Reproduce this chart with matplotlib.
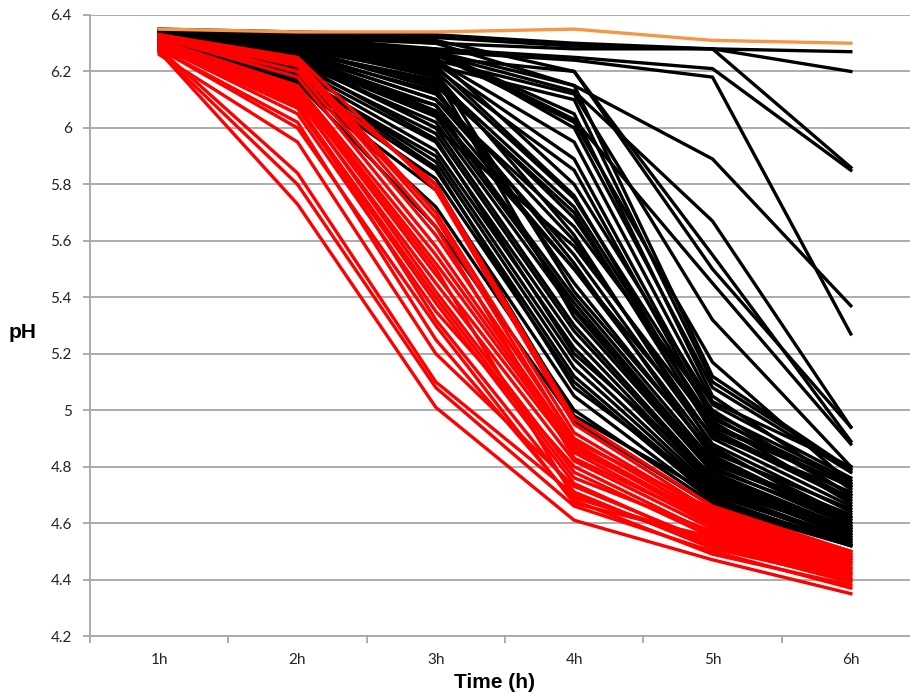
import matplotlib
matplotlib.use("Agg")
import matplotlib.pyplot as plt

hours = ["1h", "2h", "3h", "4h", "5h", "6h"]
y_ticks = [4.2, 4.4, 4.6, 4.8, 5.0, 5.2, 5.4, 5.6, 5.8, 6.0, 6.2, 6.4]

black_series = [
    [6.35, 6.34, 6.33, 6.30, 6.28, 6.27],
    [6.34, 6.33, 6.32, 6.29, 6.28, 6.20],
    [6.34, 6.32, 6.30, 6.28, 6.28, 5.86],
    [6.33, 6.31, 6.28, 6.25, 6.21, 5.85],
    [6.32, 6.30, 6.27, 6.24, 6.18, 5.27],
    [6.33, 6.31, 6.27, 6.15, 5.89, 5.37],
    [6.32, 6.29, 6.26, 6.13, 5.67, 4.94],
    [6.33, 6.30, 6.25, 6.20, 5.55, 4.89],
    [6.32, 6.30, 6.24, 6.12, 5.32, 4.80],
    [6.33, 6.31, 6.26, 6.02, 5.17, 4.74],
    [6.31, 6.28, 6.22, 6.10, 5.10, 4.79],
    [6.34, 6.32, 6.27, 6.05, 5.05, 4.72],
    [6.33, 6.30, 6.23, 5.89, 4.99, 4.75],
    [6.32, 6.29, 6.20, 5.75, 4.98, 4.70],
    [6.31, 6.27, 6.17, 5.72, 4.95, 4.73],
    [6.33, 6.28, 6.15, 5.70, 4.92, 4.68],
    [6.32, 6.27, 6.12, 5.60, 4.90, 4.66],
    [6.31, 6.26, 6.10, 5.55, 4.88, 4.64],
    [6.30, 6.25, 6.08, 5.50, 4.86, 4.62],
    [6.33, 6.28, 6.14, 5.45, 4.84, 4.60],
    [6.32, 6.26, 6.06, 5.40, 4.82, 4.63],
    [6.31, 6.24, 6.04, 5.38, 4.80, 4.59],
    [6.30, 6.23, 6.02, 5.35, 4.79, 4.61],
    [6.34, 6.30, 6.20, 5.42, 4.85, 4.65],
    [6.33, 6.29, 6.18, 5.33, 4.78, 4.58],
    [6.32, 6.25, 6.00, 5.30, 4.76, 4.57],
    [6.31, 6.22, 5.98, 5.28, 4.75, 4.56],
    [6.30, 6.21, 5.95, 5.25, 4.74, 4.55],
    [6.29, 6.20, 5.92, 5.22, 4.73, 4.56],
    [6.28, 6.18, 5.90, 5.18, 4.72, 4.54],
    [6.29, 6.19, 5.88, 5.15, 4.71, 4.53],
    [6.28, 6.17, 5.85, 5.12, 4.70, 4.54],
    [6.27, 6.16, 5.82, 5.10, 4.69, 4.52],
    [6.28, 6.15, 5.78, 5.05, 4.68, 4.53],
    [6.29, 6.17, 5.72, 5.00, 4.67, 4.52],
    [6.30, 6.16, 5.65, 4.96, 4.66, 4.52],
    [6.31, 6.20, 5.80, 4.98, 4.70, 4.55],
    [6.33, 6.26, 6.10, 5.65, 5.00, 4.70],
    [6.34, 6.31, 6.25, 5.80, 5.02, 4.76],
    [6.32, 6.27, 6.16, 5.68, 4.96, 4.67],
    [6.33, 6.30, 6.22, 5.76, 4.93, 4.69],
    [6.31, 6.25, 6.05, 5.50, 4.91, 4.71],
    [6.30, 6.24, 6.00, 5.58, 4.94, 4.73],
    [6.32, 6.28, 6.19, 5.62, 4.87, 4.60],
    [6.34, 6.32, 6.28, 6.00, 5.08, 4.78],
    [6.35, 6.33, 6.30, 6.15, 5.12, 4.79],
    [6.34, 6.33, 6.31, 6.20, 5.50, 4.94],
    [6.33, 6.31, 6.27, 6.03, 5.45, 4.88],
    [6.29, 6.22, 6.08, 5.36, 4.81, 4.62],
    [6.30, 6.23, 5.96, 5.20, 4.77, 4.58],
    [6.28, 6.19, 5.86, 5.08, 4.72, 4.57],
    [6.32, 6.28, 6.21, 5.85, 4.97, 4.74],
    [6.33, 6.29, 6.24, 5.95, 5.03, 4.80],
    [6.31, 6.26, 6.13, 5.52, 4.83, 4.59],
]

red_series = [
    [6.27, 5.73, 5.01, 4.61, 4.47, 4.35],
    [6.27, 5.80, 5.08, 4.66, 4.50, 4.37],
    [6.28, 5.84, 5.10, 4.70, 4.52, 4.39],
    [6.26, 5.95, 5.20, 4.73, 4.53, 4.40],
    [6.28, 6.00, 5.30, 4.67, 4.55, 4.42],
    [6.29, 6.05, 5.35, 4.80, 4.56, 4.43],
    [6.29, 6.08, 5.40, 4.76, 4.57, 4.44],
    [6.30, 6.10, 5.45, 4.82, 4.58, 4.45],
    [6.30, 6.12, 5.48, 4.85, 4.59, 4.46],
    [6.31, 6.13, 5.50, 4.69, 4.54, 4.41],
    [6.31, 6.15, 5.55, 4.87, 4.60, 4.47],
    [6.32, 6.18, 5.58, 4.88, 4.61, 4.48],
    [6.32, 6.20, 5.62, 4.90, 4.62, 4.46],
    [6.32, 6.22, 5.65, 4.83, 4.60, 4.47],
    [6.33, 6.24, 5.70, 4.92, 4.63, 4.49],
    [6.33, 6.25, 5.78, 4.95, 4.64, 4.50],
    [6.32, 6.20, 5.80, 4.97, 4.66, 4.50],
    [6.30, 6.11, 5.42, 4.78, 4.55, 4.44],
    [6.29, 6.07, 5.38, 4.74, 4.52, 4.42],
    [6.31, 6.14, 5.52, 4.86, 4.62, 4.48],
    [6.30, 6.09, 5.32, 4.71, 4.51, 4.40],
    [6.33, 6.23, 5.68, 4.89, 4.65, 4.49],
    [6.28, 6.02, 5.25, 4.68, 4.49, 4.38],
]

orange_series = [6.35, 6.34, 6.34, 6.35, 6.31, 6.30]

W, H = 910, 695
fig = plt.figure(figsize=(W / 100, H / 100), dpi=100)
left, right, top, bottom = 90, 920, 15, 636
ax = fig.add_axes([left / W, 1 - bottom / H, (right - left) / W, (bottom - top) / H])

x = list(range(1, len(hours) + 1))
lw = 2.4
for s in black_series:
    ax.plot(x, s, color="black", lw=lw, solid_joinstyle="miter", zorder=3)
for s in red_series:
    ax.plot(x, s, color="#FF0000", lw=lw, solid_joinstyle="miter", zorder=4)
ax.plot(x, orange_series, color="#F79646", lw=lw, zorder=5)

ax.set_xlim(0.5, len(hours) + 0.5)
ax.set_ylim(4.2, 6.4)
ax.set_yticks(y_ticks)
ax.set_yticklabels([f"{v:g}" for v in y_ticks])
ax.set_xticks(x)
ax.set_xticklabels(hours)
ax.set_xticks([i + 0.5 for i in range(0, len(hours))], minor=True)

grid_c = "#A6A6A6"
ax.yaxis.grid(True, color=grid_c, lw=1.3, zorder=0)
ax.set_axisbelow(True)
for sp in ["top", "right"]:
    ax.spines[sp].set_visible(False)
for sp in ["left", "bottom"]:
    ax.spines[sp].set_color(grid_c)
    ax.spines[sp].set_linewidth(1.3)

tick_font = "Lato"
ax.tick_params(axis="y", which="major", length=5, width=1.3, color=grid_c, pad=8,
               labelsize=11, labelcolor="#222222")
ax.tick_params(axis="x", which="major", length=0, pad=12, labelsize=11, labelcolor="#222222")
ax.tick_params(axis="x", which="minor", length=5, width=1.3, color=grid_c)
for lab in ax.get_xticklabels() + ax.get_yticklabels():
    lab.set_fontfamily(tick_font)

fig.text(23 / W, 1 - 333 / H, "pH", fontsize=15, fontweight="bold",
         family="Liberation Sans", ha="center", va="center")
fig.text(495 / W, 1 - 683 / H, "Time (h)", fontsize=15, fontweight="bold",
         family="Liberation Sans", ha="center", va="center")

fig.savefig("out.png", dpi=100)
